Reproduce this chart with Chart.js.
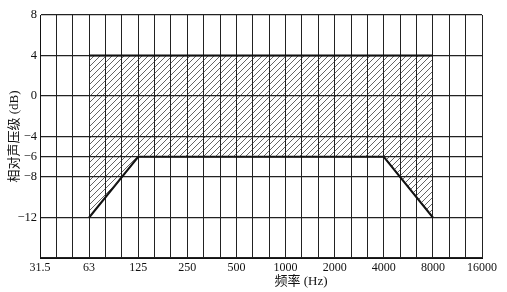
<!DOCTYPE html>
<html>
<head>
<meta charset="utf-8">
<script src="https://cdn.jsdelivr.net/npm/chart.js@4"></script>
<style>
  html, body { margin: 0; padding: 0; background: #fff; }
  #wrap { width: 507px; height: 292px; }
</style>
</head>
<body>
<div id="wrap"><canvas id="grafico"></canvas></div>
<script>
// Rótulos de frequência (bandas de oitava)
const freqLabels = ['31.5', '63', '125', '250', '500', '1000', '2000', '4000', '8000', '16000'];
// Ticks do eixo Y
const yTicks = [-16, -12, -8, -6, -4, 0, 4, 8];
// Limites da faixa hachurada
const bandFreqs = ['63', '125', '4000', '8000'];
const upperLimit = [4, 4, 4, 4];
const lowerLimit = [-12, -6, -6, -12];

const fontFamily = '"Liberation Serif", "Noto Sans CJK SC", serif';

// Padrão de hachura diagonal
function makeHatch() {
    const c = document.createElement('canvas');
    c.width = 6; c.height = 6;
    const g = c.getContext('2d');
    g.strokeStyle = 'rgba(40,40,40,0.9)';
    g.lineWidth = 0.8;
    g.beginPath();
    g.moveTo(0, 6); g.lineTo(6, 0);
    g.moveTo(-1, 1); g.lineTo(1, -1);
    g.moveTo(5, 7); g.lineTo(7, 5);
    g.stroke();
    return g.createPattern(c, 'repeat');
}

const xIdx = f => freqLabels.indexOf(f);

const xTitlePlugin = {
    id: 'xTitle',
    afterDraw(chart) {
        const ctx = chart.ctx;
        ctx.save();
        ctx.fillStyle = '#111';
        ctx.font = '13px ' + fontFamily;
        ctx.textAlign = 'center';
        ctx.textBaseline = 'middle';
        ctx.fillText('频率 (Hz)', 301, 282);
        ctx.restore();
    }
};

const ctx = document.getElementById('grafico').getContext('2d');
new Chart(ctx, {
    type: 'line',
    data: {
        datasets: [{
            label: 'limite superior',
            data: bandFreqs.map((f, i) => ({ x: xIdx(f), y: upperLimit[i] })),
            borderColor: '#111',
            borderWidth: 2,
            pointRadius: 0,
            fill: '+1',
            backgroundColor: makeHatch()
        }, {
            label: 'limite inferior',
            data: bandFreqs.map((f, i) => ({ x: xIdx(f), y: lowerLimit[i] })),
            borderColor: '#111',
            borderWidth: 2,
            pointRadius: 0,
            fill: false
        }]
    },
    options: {
        responsive: true,
        maintainAspectRatio: false,
        animation: false,
        layout: { padding: { left: 0, right: 25, top: 15, bottom: 0 } },
        plugins: { legend: { display: false }, tooltip: { enabled: false } },
        scales: {
            x: {
                type: 'linear',
                min: 0,
                max: freqLabels.length - 1,
                afterBuildTicks: scale => {
                    const t = [];
                    for (let k = 0; k <= (freqLabels.length - 1) * 3; k++) t.push({ value: k / 3 });
                    scale.ticks = t;
                },
                afterFit: scale => { scale.height = 34; },
                ticks: {
                    autoSkip: false,
                    maxRotation: 0,
                    color: '#111',
                    font: { family: fontFamily, size: 12 },
                    padding: 3,
                    callback: v => {
                        const r = Math.round(v);
                        return Math.abs(v - r) < 1e-6 ? freqLabels[r] : '';
                    }
                },
                grid: { color: '#222', lineWidth: 1, drawTicks: false },
                border: { color: '#111', width: 1 }
            },
            y: {
                type: 'linear',
                min: -16,
                max: 8,
                afterBuildTicks: scale => { scale.ticks = yTicks.map(v => ({ value: v })); },
                afterFit: scale => { scale.width = 40; },
                ticks: {
                    color: '#111',
                    font: { family: fontFamily, size: 12.5 },
                    padding: 3,
                    callback: v => v === -16 ? '' : (v < 0 ? '\u2212' + Math.abs(v) : String(v))
                },
                title: {
                    display: true,
                    text: '相对声压级 (dB)',
                    color: '#111',
                    font: { family: fontFamily, size: 13 },
                    padding: { top: 7, bottom: 0 }
                },
                grid: { color: '#222', lineWidth: 1.3, drawTicks: false },
                border: { color: '#111', width: 1 }
            }
        }
    },
    plugins: [xTitlePlugin]
});
</script>
</body>
</html>
